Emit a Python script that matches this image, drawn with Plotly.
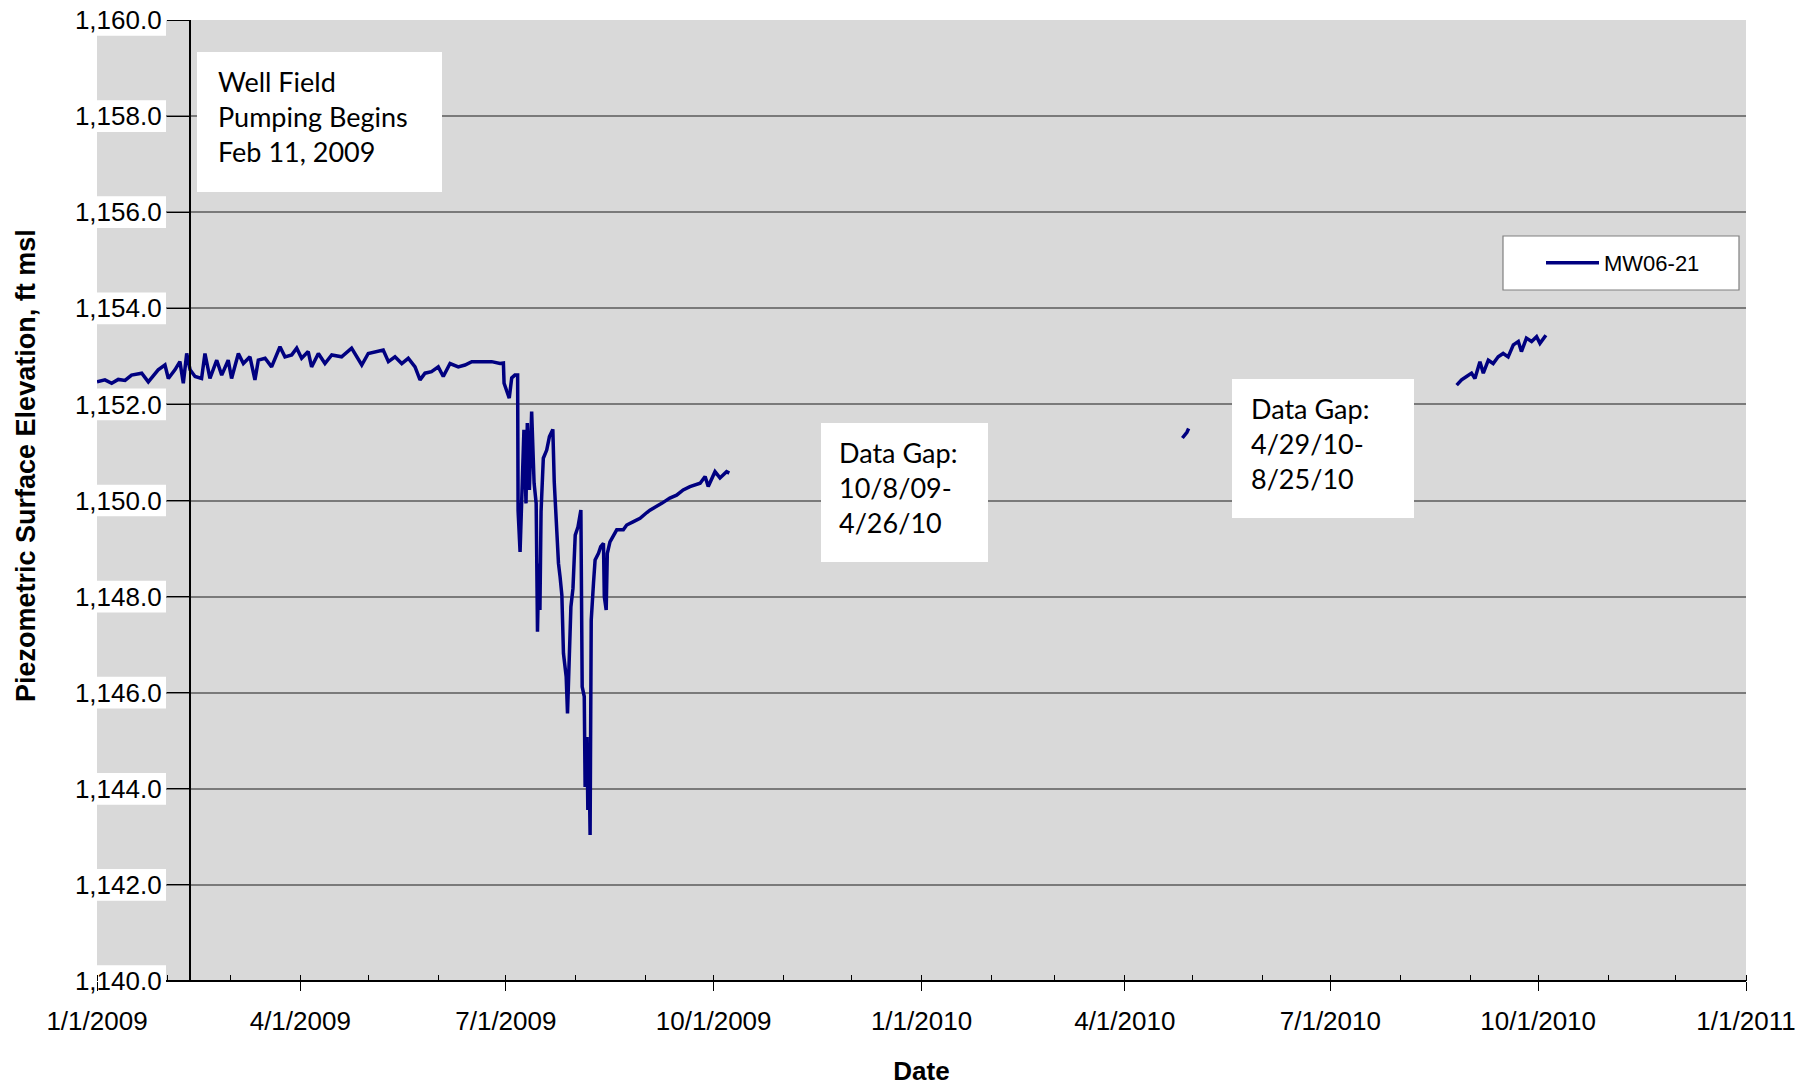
import plotly.graph_objects as go
from datetime import datetime

# ---------------- data ----------------
dates_2009 = [
    "2009-01-01 00:00", "2009-01-04 12:00", "2009-01-07 12:00", "2009-01-10 10:00", "2009-01-13 10:00",
    "2009-01-16 07:00", "2009-01-20 19:00", "2009-01-23 17:00", "2009-01-28 02:00", "2009-01-31 02:00",
    "2009-02-01 14:00", "2009-02-04 12:00", "2009-02-06 17:00", "2009-02-08 05:00", "2009-02-09 17:00",
    "2009-02-11 05:00", "2009-02-13 10:00", "2009-02-16 07:00", "2009-02-17 19:00", "2009-02-20 00:00",
    "2009-02-23 00:00", "2009-02-25 05:00", "2009-02-28 02:00", "2009-03-01 14:00", "2009-03-04 14:00",
    "2009-03-06 19:00", "2009-03-09 17:00", "2009-03-11 22:00", "2009-03-13 10:00", "2009-03-16 10:00",
    "2009-03-19 07:00", "2009-03-23 00:00", "2009-03-25 05:00", "2009-03-28 05:00", "2009-03-30 10:00",
    "2009-04-01 14:00", "2009-04-04 12:00", "2009-04-06 00:00", "2009-04-09 00:00", "2009-04-11 22:00",
    "2009-04-14 22:00", "2009-04-19 07:00", "2009-04-23 17:00", "2009-04-26 17:00", "2009-04-28 05:00",
    "2009-05-01 02:00", "2009-05-05 12:00", "2009-05-07 17:00", "2009-05-10 00:00", "2009-05-12 22:00",
    "2009-05-15 22:00", "2009-05-18 19:00", "2009-05-21 19:00", "2009-05-24 00:00", "2009-05-26 05:00",
    "2009-05-29 02:00", "2009-06-01 02:00", "2009-06-03 07:00", "2009-06-06 07:00", "2009-06-09 22:00",
    "2009-06-12 22:00", "2009-06-15 22:00", "2009-06-20 07:00", "2009-06-24 17:00", "2009-06-28 10:00",
    "2009-06-29 22:00", "2009-06-30 05:00", "2009-07-01 10:00", "2009-07-02 12:00", "2009-07-03 14:00",
    "2009-07-05 00:00", "2009-07-06 05:00", "2009-07-06 10:00", "2009-07-07 07:00", "2009-07-08 00:00",
    "2009-07-09 00:00", "2009-07-09 22:00", "2009-07-10 12:00", "2009-07-11 10:00", "2009-07-12 10:00",
    "2009-07-13 12:00", "2009-07-14 10:00", "2009-07-15 00:00", "2009-07-15 14:00", "2009-07-16 02:00",
    "2009-07-16 14:00", "2009-07-17 14:00", "2009-07-19 02:00", "2009-07-20 07:00", "2009-07-21 19:00",
    "2009-07-22 10:00", "2009-07-23 05:00", "2009-07-24 07:00", "2009-07-25 00:00", "2009-07-25 19:00",
    "2009-07-26 12:00", "2009-07-27 17:00", "2009-07-28 07:00", "2009-07-29 00:00", "2009-07-29 19:00",
    "2009-07-30 17:00", "2009-07-31 17:00", "2009-08-01 22:00", "2009-08-03 05:00", "2009-08-03 19:00",
    "2009-08-04 17:00", "2009-08-05 02:00", "2009-08-05 22:00", "2009-08-06 07:00", "2009-08-06 17:00",
    "2009-08-07 07:00", "2009-08-07 19:00", "2009-08-08 19:00", "2009-08-09 12:00", "2009-08-11 00:00",
    "2009-08-12 00:00", "2009-08-13 05:00", "2009-08-13 14:00", "2009-08-14 10:00", "2009-08-14 22:00",
    "2009-08-16 02:00", "2009-08-17 14:00", "2009-08-19 02:00", "2009-08-22 00:00", "2009-08-23 12:00",
    "2009-08-26 12:00", "2009-08-29 10:00", "2009-09-01 10:00", "2009-09-02 19:00", "2009-09-08 00:00",
    "2009-09-11 14:00", "2009-09-14 14:00", "2009-09-17 12:00", "2009-09-20 12:00", "2009-09-22 17:00",
    "2009-09-25 00:00", "2009-09-27 05:00", "2009-09-28 14:00", "2009-10-01 14:00", "2009-10-03 19:00",
    "2009-10-06 17:00", "2009-10-07 22:00",
]
levels_2009 = [
    1152.47, 1152.51, 1152.44, 1152.52, 1152.50,
    1152.61, 1152.65, 1152.47, 1152.72, 1152.82,
    1152.54, 1152.72, 1152.89, 1152.44, 1153.06,
    1152.72, 1152.58, 1152.54, 1153.06, 1152.54,
    1152.92, 1152.61, 1152.92, 1152.54, 1153.06,
    1152.85, 1152.99, 1152.51, 1152.92, 1152.96,
    1152.78, 1153.20, 1152.99, 1153.03, 1153.17,
    1152.96, 1153.10, 1152.78, 1153.06, 1152.85,
    1153.03, 1152.99, 1153.17, 1152.92, 1152.82,
    1153.06, 1153.10, 1153.13, 1152.89, 1152.99,
    1152.85, 1152.96, 1152.78, 1152.51, 1152.65,
    1152.68, 1152.78, 1152.58, 1152.85, 1152.78,
    1152.82, 1152.89, 1152.89, 1152.89, 1152.85,
    1152.86, 1152.44, 1152.26, 1152.13, 1152.55,
    1152.61, 1152.61, 1149.78, 1148.93, 1149.94,
    1151.47, 1149.94, 1151.61, 1150.22, 1151.85,
    1150.36, 1149.94, 1147.27, 1148.69, 1147.72,
    1149.77, 1150.88, 1151.05, 1151.33, 1151.48,
    1150.39, 1149.59, 1148.69, 1148.41, 1148.03,
    1146.82, 1146.33, 1145.57, 1146.89, 1147.79,
    1148.17, 1149.28, 1149.45, 1149.80, 1146.12,
    1145.92, 1144.04, 1145.08, 1143.56, 1144.95,
    1143.04, 1147.51, 1148.28, 1148.76, 1148.90,
    1149.04, 1149.11, 1148.00, 1147.72, 1148.90,
    1149.14, 1149.25, 1149.39, 1149.39, 1149.49,
    1149.56, 1149.63, 1149.75, 1149.80, 1149.94,
    1150.05, 1150.11, 1150.22, 1150.29, 1150.32,
    1150.36, 1150.50, 1150.29, 1150.60, 1150.47,
    1150.60, 1150.57,
]

dates_apr2010 = ["2010-04-26 12:00", "2010-04-27 12:00", "2010-04-28 12:00", "2010-04-29 06:00"]
levels_apr2010 = [1151.30, 1151.36, 1151.42, 1151.50]

dates_fall2010 = [
    "2010-08-25 22:00", "2010-08-28 02:00", "2010-08-30 07:00", "2010-09-01 12:00", "2010-09-03 00:00",
    "2010-09-05 05:00", "2010-09-06 17:00", "2010-09-08 22:00", "2010-09-11 02:00", "2010-09-13 07:00",
    "2010-09-15 12:00", "2010-09-17 17:00", "2010-09-20 00:00", "2010-09-22 05:00", "2010-09-23 14:00",
    "2010-09-25 19:00", "2010-09-28 02:00", "2010-09-30 07:00", "2010-10-01 19:00", "2010-10-04 10:00",
]
levels_fall2010 = [
    1152.40, 1152.51, 1152.58, 1152.65, 1152.54,
    1152.89, 1152.65, 1152.92, 1152.85, 1152.99,
    1153.06, 1152.99, 1153.24, 1153.31, 1153.10,
    1153.38, 1153.31, 1153.41, 1153.27, 1153.44,
]

series_name = "MW06-21"
x_range = ["2009-01-01", "2011-01-01"]
y_range = [1140, 1160]
y_ticks = [1140, 1142, 1144, 1146, 1148, 1150, 1152, 1154, 1156, 1158, 1160]
x_ticks = ["2009-01-01", "2009-04-01", "2009-07-01", "2009-10-01", "2010-01-01",
           "2010-04-01", "2010-07-01", "2010-10-01", "2011-01-01"]
pumping_start = "2009-02-11"

x_title = "Date"
y_title = "Piezometric Surface Elevation, ft msl"
note_pumping = "Well Field<br>Pumping Begins<br>Feb 11, 2009"
note_gap1 = "Data Gap:<br>10/8/09-<br>4/26/10"
note_gap2 = "Data Gap:<br>4/29/10-<br>8/25/10"

# ---------------- figure ----------------
xs = dates_2009 + [None] + dates_apr2010 + [None] + dates_fall2010
ys = levels_2009 + [None] + levels_apr2010 + [None] + levels_fall2010

W, H = 1818, 1088
ML, MR, MT, MB = 97, 72, 20, 107
PW, PH = W - ML - MR, H - MT - MB


def px(xp):
    return (xp - ML) / PW


def py(yp):
    return (H - MB - yp) / PH


x0 = datetime.fromisoformat(x_range[0])
x1 = datetime.fromisoformat(x_range[1])
cross = datetime.fromisoformat(pumping_start)
y_axis_pos = (cross - x0).total_seconds() / (x1 - x0).total_seconds()
label_box_end = x0 + (x1 - x0) * px(166)

fig = go.Figure()
fig.add_trace(go.Scatter(
    x=xs, y=ys, mode="lines", name=series_name,
    line=dict(color="#000080", width=3.5), connectgaps=False,
))

ARIAL = "Liberation Sans, Arial, sans-serif"
label_font = dict(family=ARIAL, size=26, color="black")

fig.update_layout(
    width=W, height=H,
    margin=dict(l=ML, r=MR, t=MT, b=MB, pad=0, autoexpand=False),
    paper_bgcolor="white",
    plot_bgcolor="#d9d9d9",
    showlegend=True,
    legend=dict(
        x=px(1541), y=py(263), xanchor="left", yanchor="middle",
        bgcolor="rgba(0,0,0,0)", borderwidth=0, itemwidth=53,
        font=dict(family=ARIAL, size=22, color="black"),
    ),
    xaxis=dict(
        type="date", range=x_range, automargin=False,
        tickvals=x_ticks, tickformat="%-m/%-d/%Y",
        tickfont=label_font, ticklabelstandoff=8,
        ticks="outside", ticklen=9, tickwidth=1, tickcolor="black",
        minor=dict(ticks="inside", ticklen=6, tickwidth=1, tickcolor="black",
                   dtick="M1", tick0="2009-01-01", showgrid=False),
        showline=False,
        showgrid=False, zeroline=False,
        title=dict(text="<b>" + x_title + "</b>", font=dict(family=ARIAL, size=26, color="black"),
                   standoff=26),
    ),
    yaxis=dict(
        range=y_range, tickvals=y_ticks, tickformat=",.1f", automargin=False,
        anchor="free", position=y_axis_pos,
        tickfont=label_font,
        ticks="outside", ticklen=22, tickwidth=1, tickcolor="black",
        showline=True, linecolor="black", linewidth=1.5,
        showgrid=True, gridcolor="#7a7a7a", gridwidth=1.5,
        zeroline=False,
    ),
)

# y-axis title (sits above the plot centre in the reference)
fig.add_annotation(text="<b>" + y_title + "</b>", xref="paper", yref="paper",
                   x=px(26), y=py(466), xanchor="center", yanchor="middle",
                   textangle=-90, showarrow=False,
                   font=dict(family=ARIAL, size=27, color="black"))

# white backing behind the value-axis labels
for v in y_ticks:
    fig.add_shape(type="rect", xref="x", yref="y", layer="between",
                  x0=x_range[0], x1=label_box_end, y0=v - 0.33, y1=v + 0.33,
                  fillcolor="white", line=dict(width=0))

# category-axis line, starting right of the value labels
fig.add_shape(type="line", xref="x", yref="paper", layer="above",
              x0=label_box_end, x1=x_range[1], y0=0, y1=0,
              line=dict(color="black", width=2))

# note boxes
boxes = [(197, 442, 52, 192), (821, 988, 423, 562), (1232, 1414, 379, 518)]
for (bx0, bx1, by0, by1) in boxes:
    fig.add_shape(type="rect", xref="paper", yref="paper", layer="above",
                  x0=px(bx0), x1=px(bx1), y0=py(by1), y1=py(by0),
                  fillcolor="white", line=dict(width=0))

# legend box
fig.add_shape(type="rect", xref="paper", yref="paper", layer="above",
              x0=px(1503), x1=px(1739), y0=py(290), y1=py(236),
              fillcolor="white", line=dict(color="#808080", width=1.2))

note_font = dict(family="Lato, Calibri, sans-serif", size=27, color="black")
for text, tx, ty in [(note_pumping, 216, 117), (note_gap1, 837, 487), (note_gap2, 1249, 443)]:
    fig.add_annotation(text=text, xref="paper", yref="paper", x=px(tx), y=py(ty),
                       xanchor="left", yanchor="middle", align="left",
                       showarrow=False, font=note_font)

fig.write_html("out.html", config={"displayModeBar": False},
               post_script="document.body.style.margin='0';")
